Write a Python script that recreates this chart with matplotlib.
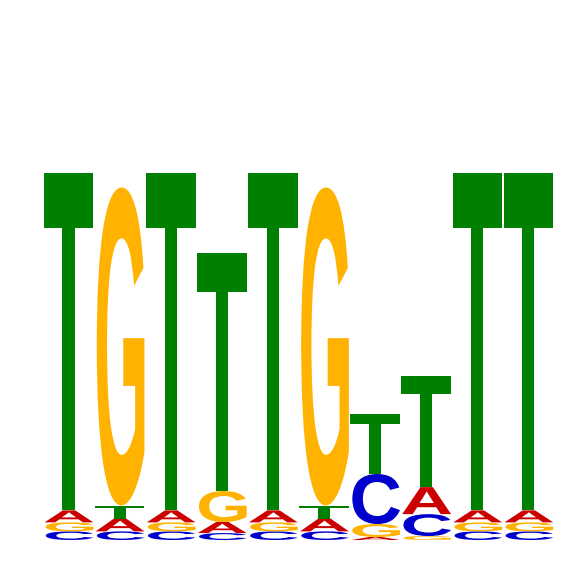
import matplotlib
matplotlib.use("Agg")
import matplotlib.pyplot as plt
from matplotlib.textpath import TextPath
from matplotlib.patches import PathPatch
from matplotlib.font_manager import FontProperties
from matplotlib.transforms import Affine2D

# information content (bits) of each base at each of the 10 positions
positions = [1, 2, 3, 4, 5, 6, 7, 8, 9, 10]
bits_A = [0.064, 0.068, 0.064, 0.059, 0.064, 0.068, 0.016, 0.144, 0.064, 0.064]
bits_C = [0.046, 0.046, 0.046, 0.037, 0.046, 0.046, 0.267, 0.117, 0.046, 0.046]
bits_G = [0.048, 1.696, 0.048, 0.165, 0.048, 1.696, 0.069, 0.021, 0.048, 0.048]
bits_T = [1.797, 0.070, 1.797, 1.269, 1.797, 0.070, 0.320, 0.592, 1.797, 1.797]

colors = {"A": "#CC0000", "C": "#0000CC", "G": "#FFB300", "T": "#008000"}
font = FontProperties(family="Liberation Sans", weight="bold")


def draw_letter(ax, letter, x, y, w, h):
    # scale glyph outline to fill the box exactly
    tp = TextPath((0, 0), letter, size=1, prop=font)
    verts = tp.vertices
    x0, y0 = verts[:, 0].min(), verts[:, 1].min()
    x1, y1 = verts[:, 0].max(), verts[:, 1].max()
    tr = Affine2D().translate(-x0, -y0).scale(w / (x1 - x0), h / (y1 - y0)).translate(x, y)
    patch = PathPatch(tr.transform_path(tp), facecolor=colors[letter], edgecolor="none")
    ax.add_patch(patch)


fig = plt.figure(figsize=(5.66, 5.66), dpi=100)
ax = fig.add_axes([42.5 / 566, 26 / 566, 511 / 566, 375 / 566])

for i, pos in enumerate(positions):
    stack = [("A", bits_A[i]), ("C", bits_C[i]), ("G", bits_G[i]), ("T", bits_T[i])]
    stack.sort(key=lambda s: s[1])
    base = 0.0
    for letter, h in stack:
        draw_letter(ax, letter, pos - 0.495, base, 0.99, h)
        base += h

ax.set_xlim(0.5, 10.5)
ax.set_ylim(0, 2)
ax.axis("off")

fig.savefig("out.png", dpi=100)
